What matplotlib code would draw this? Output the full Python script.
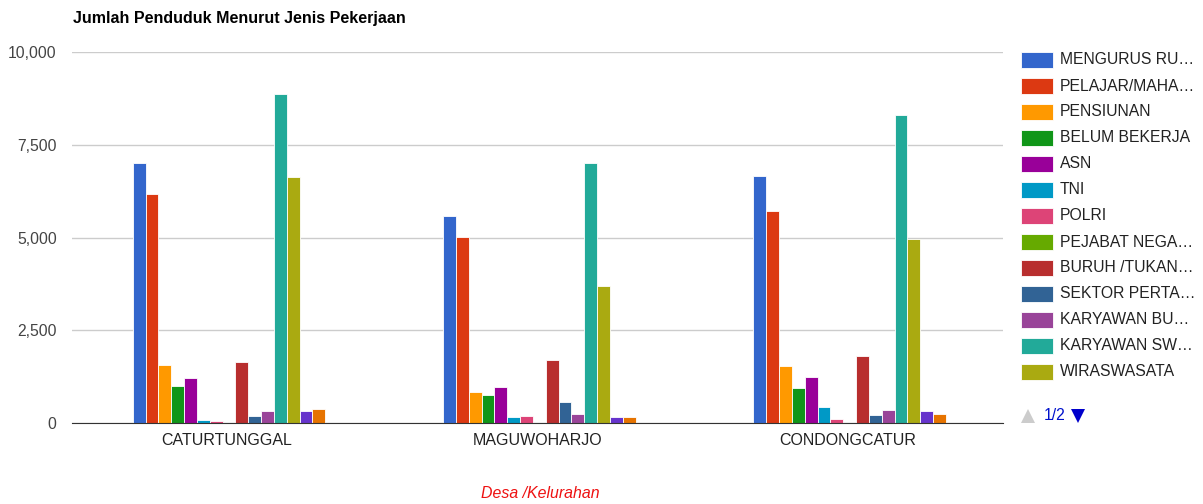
import numpy as np
import matplotlib.pyplot as plt
from matplotlib.patches import Rectangle, Polygon
from matplotlib.ticker import FuncFormatter

plt.rcParams["font.family"] = ["Liberation Sans", "DejaVu Sans"]

villages = ["CATURTUNGGAL", "MAGUWOHARJO", "CONDONGCATUR"]

# legend labels as shown on page 1 (truncated like the source)
legend_labels = [
    "MENGURUS RU…", "PELAJAR/MAHA…", "PENSIUNAN", "BELUM BEKERJA", "ASN", "TNI",
    "POLRI", "PEJABAT NEGA…", "BURUH /TUKAN…", "SEKTOR PERTA…", "KARYAWAN BU…",
    "KARYAWAN SW…", "WIRASWASATA",
]

# one row per job type, one column per village
values = [
    [7000, 5580, 6670],   # mengurus rumah tangga
    [6170, 5020, 5720],   # pelajar/mahasiswa
    [1550, 840, 1540],    # pensiunan
    [1010, 765, 950],     # belum bekerja
    [1200, 980, 1250],    # asn
    [70, 160, 430],       # tni
    [55, 200, 110],       # polri
    [0, 0, 0],            # pejabat negara
    [1640, 1710, 1810],   # buruh/tukang
    [180, 570, 225],      # sektor pertanian
    [315, 250, 350],      # karyawan bumn
    [8880, 7020, 8310],   # karyawan swasta
    [6630, 3680, 4970],   # wiraswasta
    [315, 165, 325],      # page 2 series
    [370, 170, 245],      # page 2 series
]

colors = [
    "#3366cc", "#dc3912", "#ff9900", "#109618", "#990099", "#0099c6",
    "#dd4477", "#66aa00", "#b82e2e", "#316395", "#994499", "#22aa99",
    "#aaaa11", "#6633cc", "#e67300",
]

W, H = 1203, 504
fig = plt.figure(figsize=(W / 100, H / 100), dpi=100)
ax = fig.add_axes([72 / W, 1 - 423 / H, (1003 - 72) / W, (423 - 52) / H])

n = len(values)
group_w = 0.62
bw = group_w / n
x = np.arange(len(villages))
for i, (vals, c) in enumerate(zip(values, colors)):
    offs = -group_w / 2 + bw * (i + 0.5)
    ax.bar(x + offs + 0.006, vals, width=bw, color=c, edgecolor="white", linewidth=0.6, zorder=3)

ax.set_xlim(-0.5, 2.5)
ax.set_ylim(0, 10000)
ax.set_yticks([0, 2500, 5000, 7500, 10000])
ax.yaxis.set_major_formatter(FuncFormatter(lambda v, p: f"{int(v):,}"))
ax.grid(axis="y", color="#cccccc", linewidth=1, zorder=0)
ax.set_xticks(x)
ax.set_xticklabels(villages)
for s in ["top", "right", "left"]:
    ax.spines[s].set_visible(False)
ax.spines["bottom"].set_color("#333333")
ax.spines["bottom"].set_zorder(4)
ax.tick_params(axis="both", length=0, labelsize=11.5, labelcolor="#222222")
ax.tick_params(axis="y", pad=11, labelsize=11.3, labelcolor="#444444")
ax.tick_params(axis="x", pad=7)

fig.text(73 / W, 1 - 18 / H, "Jumlah Penduduk Menurut Jenis Pekerjaan",
         fontsize=11.5, fontweight="bold", va="center", ha="left")
fig.text(540 / W, 1 - 493 / H, "Desa /Kelurahan", color="#ee1111",
         fontsize=11.4, style="italic", ha="center", va="center")

# legend, page 1 of 2
for k, (lab, c) in enumerate(zip(legend_labels, colors)):
    yc = 60 + 26 * k
    fig.patches.append(Rectangle((1021 / W, 1 - (yc + 8) / H), 32 / W, 16 / H,
                                 transform=fig.transFigure, facecolor=c,
                                 edgecolor="white", linewidth=0.6))
    fig.text(1060 / W, 1 - yc / H, lab, fontsize=11.3, color="#222222",
             va="center", ha="left")

# pager
fig.patches.append(Polygon([[1021 / W, 1 - 423 / H], [1035 / W, 1 - 423 / H],
                            [1028 / W, 1 - 409 / H]], closed=True,
                           transform=fig.transFigure, facecolor="#cccccc", edgecolor="none"))
fig.text(1044 / W, 1 - 416 / H, "1/2", fontsize=11.3, color="#0011cc", va="center", ha="left")
fig.patches.append(Polygon([[1071 / W, 1 - 409 / H], [1085 / W, 1 - 409 / H],
                            [1078 / W, 1 - 423 / H]], closed=True,
                           transform=fig.transFigure, facecolor="#0000cc", edgecolor="none"))

fig.savefig("out.png", dpi=100)
